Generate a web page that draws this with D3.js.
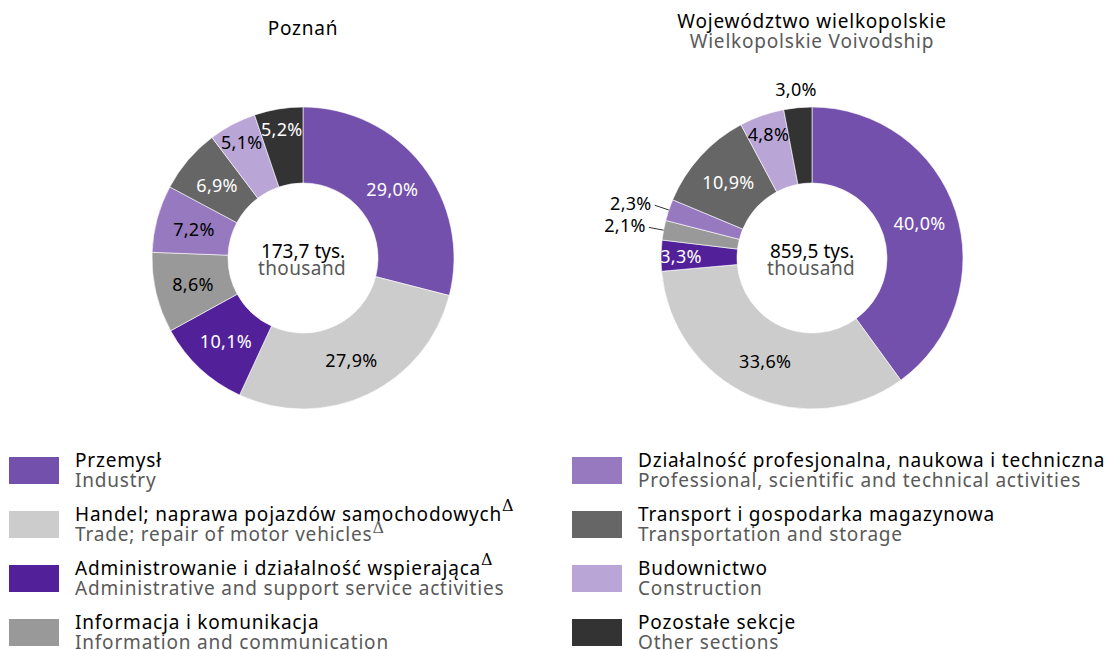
<!DOCTYPE html>
<html><head><meta charset="utf-8">
<script src="https://cdn.jsdelivr.net/npm/d3@7"></script>
<style>
body{margin:0;background:#fff;}
text{font-family:"Noto Sans",sans-serif;}
</style></head>
<body><svg id="c" width="1109" height="650"></svg>
<script>
const categoriesPL = ["Przemysł","Handel; naprawa pojazdów samochodowych","Administrowanie i działalność wspierająca","Informacja i komunikacja","Działalność profesjonalna, naukowa i techniczna","Transport i gospodarka magazynowa","Budownictwo","Pozostałe sekcje"];
const categoriesEN = ["Industry","Trade; repair of motor vehicles","Administrative and support service activities","Information and communication","Professional, scientific and technical activities","Transportation and storage","Construction","Other sections"];
const deltaPL = [false,true,true,false,false,false,false,false];
const deltaEN = [false,true,false,false,false,false,false,false];
const colors = ["#7450ad","#cccccc","#52219a","#999999","#9779bf","#666666","#b9a5d6","#333333"];
const darkSlice = [true,false,true,false,false,true,false,true];
const poznanValues = [29.0,27.9,10.1,8.6,7.2,6.9,5.1,5.2];
const wlkpValues = [40.0,33.6,3.3,2.1,2.3,10.9,4.8,3.0];
const titles = [["Poznań"],["Województwo wielkopolskie","Wielkopolskie Voivodship"]];
const totals = ["173,7 tys.","859,5 tys."];
const totalUnitEN = "thousand";

const svg = d3.select("#c");
const fmt = v => d3.format(".1f")(v).replace(".", ",") + "%";
const pie = d3.pie().sort(null).value(d => d);
const R = 151, r0 = 75;
const arc = d3.arc().innerRadius(r0).outerRadius(R);

function donut(values, cx, cy, title, total) {
  const g = svg.append("g").attr("transform", `translate(${cx},${cy})`);
  const arcs = pie(values);
  g.selectAll("path").data(arcs).join("path")
    .attr("d", arc).attr("fill", (d,i) => colors[i])
    .attr("stroke", "#fff").attr("stroke-width", 0.6);
  arcs.forEach((d,i) => {
    const v = d.data;
    const mid = (d.startAngle + d.endAngle) / 2;
    const pt = rr => [rr * Math.sin(mid), -rr * Math.cos(mid)];
    if (v < 2.5) {
      const a = pt(R), b = pt(166);
      g.append("line").attr("x1", a[0]).attr("y1", a[1]).attr("x2", b[0]).attr("y2", b[1])
        .attr("stroke", "#333").attr("stroke-width", 1);
      g.append("text").attr("x", b[0] - 3).attr("y", b[1] - 2).attr("text-anchor", "end")
        .attr("dominant-baseline", "central").attr("font-size", 18).attr("letter-spacing", 0.3)
        .attr("fill", "#000").text(fmt(v));
    } else {
      let rr = 113, fill = darkSlice[i] ? "#fff" : "#000";
      if (v <= 3.0) { rr = 170; fill = "#000"; }
      else if (v < 6) rr = 131;
      const p = pt(rr);
      g.append("text").attr("x", p[0]).attr("y", p[1]).attr("text-anchor", "middle")
        .attr("dominant-baseline", "central").attr("font-size", 18).attr("letter-spacing", 0.3)
        .attr("fill", fill).text(fmt(v));
    }
  });
  g.append("text").attr("x", 0).attr("y", 0).attr("text-anchor", "middle")
    .attr("font-size", 19).attr("fill", "#000").text(total);
  g.append("text").attr("x", -1).attr("y", 17).attr("text-anchor", "middle")
    .attr("font-size", 19).attr("letter-spacing", 0.4).attr("fill", "#595959").text(totalUnitEN);
  title.forEach((t, k) => {
    svg.append("text").attr("x", cx).attr("y", title.length === 1 ? 35 : 28 + k * 20)
      .attr("text-anchor", "middle").attr("font-size", 19).attr("letter-spacing", 0.8)
      .attr("fill", k === 0 ? "#000" : "#595959").text(t);
  });
}
donut(poznanValues, 303, 258, titles[0], totals[0]);
donut(wlkpValues, 812, 258, titles[1], totals[1]);

// legend
const leg = svg.append("g");
categoriesPL.forEach((c, i) => {
  const col = Math.floor(i / 4), row = i % 4;
  const x = col === 0 ? 9 : 572, y = 457 + row * 54;
  leg.append("rect").attr("x", x).attr("y", y).attr("width", 50).attr("height", 27).attr("fill", colors[i]);
  const t1 = leg.append("text").attr("x", x + 66).attr("y", y + 10).attr("font-size", 19)
    .attr("letter-spacing", 0.8).attr("fill", "#000");
  t1.append("tspan").text(c);
  if (deltaPL[i]) t1.append("tspan").attr("font-family", "DejaVu Serif").attr("font-size", 16).attr("dy", -10).text("Δ");
  const t2 = leg.append("text").attr("x", x + 66).attr("y", y + 30).attr("font-size", 19)
    .attr("letter-spacing", 0.8).attr("fill", "#595959");
  t2.append("tspan").text(categoriesEN[i]);
  if (deltaEN[i]) t2.append("tspan").attr("font-family", "DejaVu Serif").attr("font-size", 16).attr("dy", -8).text("Δ");
});
</script></body></html>
